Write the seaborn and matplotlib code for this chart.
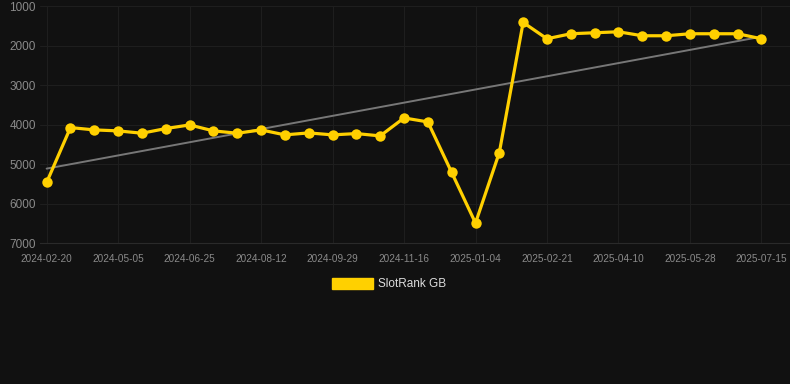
import numpy as np
import pandas as pd
import matplotlib
matplotlib.use('Agg')
import matplotlib.pyplot as plt
from matplotlib.patches import Patch
import seaborn as sns

# 数据
dates = ['2024-02-20', '2024-03-15', '2024-04-10', '2024-05-05', '2024-05-22', '2024-06-08',
         '2024-06-25', '2024-07-11', '2024-07-27', '2024-08-12', '2024-08-28', '2024-09-13',
         '2024-09-29', '2024-10-15', '2024-10-31', '2024-11-16', '2024-12-02', '2024-12-18',
         '2025-01-04', '2025-01-20', '2025-02-05', '2025-02-21', '2025-03-09', '2025-03-25',
         '2025-04-10', '2025-04-26', '2025-05-12', '2025-05-28', '2025-06-13', '2025-06-29',
         '2025-07-15']
ranks = [5465, 4075, 4134, 4159, 4218, 4100, 4008, 4159, 4218, 4134, 4260, 4210, 4260, 4227, 4286,
         3831, 3932, 5212, 6493, 4707, 1413, 1826, 1699, 1674, 1649, 1750, 1750, 1699, 1699, 1699,
         1826]
y_ticks = [1000, 2000, 3000, 4000, 5000, 6000, 7000]
series_name = 'SlotRank GB'

BG = '#111111'
GOLD = '#FFD000'

sns.set_theme(style='dark')
plt.rcParams['font.family'] = ['Liberation Sans', 'DejaVu Sans']

df = pd.DataFrame({'idx': np.arange(len(dates)), 'date': dates, 'rank': ranks})

fig = plt.figure(figsize=(7.9, 3.84), dpi=100, facecolor=BG)
ax = fig.add_axes([0.0506, 0.367, 0.9494, 0.617])
ax.set_facecolor(BG)

# 趋势线（线性拟合）
coef = np.polyfit(df['idx'], df['rank'], 1)
df['trend'] = np.polyval(coef, df['idx'])
sns.lineplot(data=df, x='idx', y='trend', ax=ax, color='#777777', linewidth=1.4, zorder=2)

sns.lineplot(data=df, x='idx', y='rank', ax=ax, color=GOLD, linewidth=2.3,
             marker='o', markersize=7.5, markeredgewidth=0, zorder=3)

ax.set_xlim(-0.28, 31.2)
ax.set_ylim(7000, 1000)
ax.set_yticks(y_ticks)
ax.set_yticklabels([str(v) for v in y_ticks], fontsize=8.5, color='#8a8a8a')
tick_idx = list(range(0, len(dates), 3))
ax.set_xticks(tick_idx)
ax.set_xticklabels([dates[i] for i in tick_idx], fontsize=7.2, color='#8a8a8a')
ax.tick_params(axis='x', length=5, color='#222222', pad=3)
ax.tick_params(axis='y', length=0, pad=3)
ax.set_xlabel('')
ax.set_ylabel('')

ax.grid(True, color='#1e1e1e', linewidth=0.8)
for s in ['top', 'right', 'left']:
    ax.spines[s].set_visible(False)
ax.spines['bottom'].set_color('#2a2a2a')
ax.spines['bottom'].set_linewidth(0.8)

handles = [Patch(facecolor=GOLD, edgecolor=GOLD, label=series_name)]
fig.legend(handles=handles, loc='center', bbox_to_anchor=(0.493, 0.26), frameon=False,
           fontsize=8.5, labelcolor='#dddddd', handlelength=3.4, handleheight=1.0,
           handletextpad=0.5)

fig.savefig('out.png', dpi=100, facecolor=BG)
